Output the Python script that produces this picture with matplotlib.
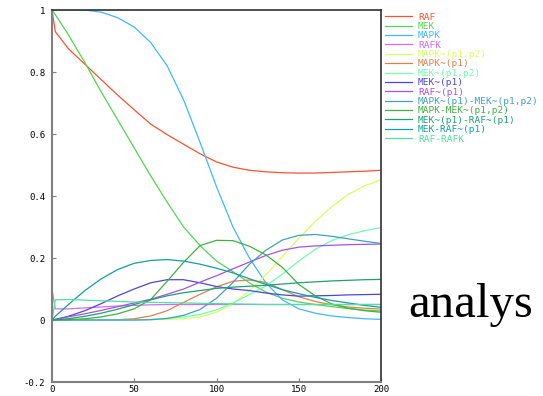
import matplotlib
matplotlib.use("Agg")
import matplotlib.pyplot as plt

# time points and species levels
t = [0, 2, 10, 20, 30, 40, 50, 60, 70, 80, 90, 100, 110, 120, 130, 140, 150, 160, 170, 180, 190, 200]

raf = [1.0, 0.93, 0.875, 0.825, 0.775, 0.725, 0.678, 0.632, 0.598, 0.567, 0.536, 0.51,
       0.493, 0.483, 0.478, 0.475, 0.474, 0.474, 0.476, 0.478, 0.48, 0.483]
mek = [1.0, 0.985, 0.92, 0.83, 0.735, 0.645, 0.555, 0.465, 0.38, 0.30, 0.24, 0.19,
       0.156, 0.12, 0.09, 0.07, 0.058, 0.05, 0.043, 0.037, 0.032, 0.029]
mapk = [1.0, 1.0, 1.0, 1.0, 0.993, 0.975, 0.945, 0.895, 0.82, 0.71, 0.573, 0.43,
        0.30, 0.20, 0.12, 0.065, 0.036, 0.022, 0.013, 0.008, 0.004, 0.002]
rafk = [0.1, 0.036, 0.036, 0.039, 0.042, 0.045, 0.047, 0.049, 0.05, 0.05, 0.05, 0.05,
        0.05, 0.05, 0.05, 0.05, 0.05, 0.05, 0.05, 0.05, 0.05, 0.05]
mapk_pp = [0, 0, 0, 0, 0, 0, 0, 0.001, 0.002, 0.004, 0.01, 0.025,
           0.052, 0.095, 0.145, 0.205, 0.263, 0.318, 0.365, 0.405, 0.433, 0.452]
mapk_p = [0, 0, 0, 0, 0, 0.001, 0.004, 0.013, 0.03, 0.057, 0.083, 0.107,
          0.125, 0.129, 0.121, 0.098, 0.075, 0.06, 0.049, 0.042, 0.038, 0.035]
mek_pp = [0, 0, 0, 0, 0, 0, 0, 0.002, 0.005, 0.01, 0.018, 0.033,
          0.055, 0.082, 0.11, 0.148, 0.19, 0.228, 0.256, 0.275, 0.288, 0.298]
mek_p = [0, 0.002, 0.012, 0.03, 0.053, 0.078, 0.1, 0.12, 0.13, 0.13, 0.12, 0.108,
         0.1, 0.095, 0.087, 0.081, 0.077, 0.078, 0.079, 0.081, 0.082, 0.083]
raf_p = [0, 0.002, 0.01, 0.02, 0.031, 0.043, 0.055, 0.067, 0.083, 0.1, 0.122, 0.143,
         0.165, 0.187, 0.208, 0.225, 0.235, 0.239, 0.241, 0.243, 0.244, 0.245]
mapkp_mekpp = [0, 0, 0, 0, 0, 0, 0, 0.001, 0.005, 0.015, 0.034, 0.07,
               0.121, 0.18, 0.225, 0.258, 0.273, 0.276, 0.27, 0.262, 0.254, 0.247]
mapk_mekpp = [0, 0, 0.001, 0.004, 0.01, 0.02, 0.036, 0.066, 0.125, 0.186, 0.24, 0.257,
              0.256, 0.238, 0.21, 0.17, 0.115, 0.078, 0.052, 0.038, 0.03, 0.025]
mekp_rafp = [0, 0.001, 0.004, 0.012, 0.022, 0.035, 0.05, 0.065, 0.078, 0.088, 0.095, 0.102,
             0.106, 0.109, 0.112, 0.116, 0.12, 0.123, 0.126, 0.128, 0.13, 0.131]
mek_rafp = [0, 0.012, 0.05, 0.095, 0.133, 0.163, 0.183, 0.192, 0.195, 0.19, 0.18, 0.167,
            0.152, 0.133, 0.115, 0.098, 0.085, 0.073, 0.063, 0.055, 0.047, 0.041]
raf_rafk = [0, 0.065, 0.066, 0.064, 0.062, 0.06, 0.058, 0.057, 0.056, 0.055, 0.054, 0.053,
            0.052, 0.051, 0.05, 0.05, 0.05, 0.05, 0.05, 0.05, 0.05, 0.05]

names = ["RAF", "MEK", "MAPK", "RAFK", "MAPK~(p1,p2)", "MAPK~(p1)", "MEK~(p1,p2)",
         "MEK~(p1)", "RAF~(p1)", "MAPK~(p1)-MEK~(p1,p2)", "MAPK-MEK~(p1,p2)",
         "MEK~(p1)-RAF~(p1)", "MEK-RAF~(p1)", "RAF-RAFK"]
series = [raf, mek, mapk, rafk, mapk_pp, mapk_p, mek_pp, mek_p, raf_p,
          mapkp_mekpp, mapk_mekpp, mekp_rafp, mek_rafp, raf_rafk]
colors = ["#ff5030", "#50d850", "#40b8ff", "#d868ff", "#d8ff60", "#e08050", "#70ffb0",
          "#4848e0", "#a850e8", "#40a0c0", "#40b040", "#20a070", "#10a0a0", "#50e0a0"]

yticks = [-0.2, 0, 0.2, 0.4, 0.6, 0.8, 1]
ylabels = ["-0.2", "0", "0.2", "0.4", "0.6", "0.8", "1"]
xticks = [0, 50, 100, 150, 200]

mono = "DejaVu Sans Mono"

fig = plt.figure(figsize=(5.43, 3.96), dpi=100)
ax = fig.add_axes([52/543, 1-382/396, (381-52)/543, (382-10)/396])

for name, vals, c in zip(names, series, colors):
    ax.plot(t, vals, color=c, lw=0.9, label=name)

ax.set_xlim(0, 200)
ax.set_ylim(-0.2, 1)
ax.set_yticks(yticks)
ax.set_yticklabels(ylabels)
ax.set_xticks(xticks)
ax.set_xticklabels([str(x) for x in xticks])
ax.tick_params(direction="in", length=3, width=0.8, color="#808080", labelsize=6.5)
ax.tick_params(axis="y", pad=5)
ax.tick_params(axis="x", pad=2.5)
for lab in ax.get_xticklabels() + ax.get_yticklabels():
    lab.set_family(mono)

ax.spines["left"].set_color("#808080")
ax.spines["bottom"].set_color("#808080")
ax.spines["left"].set_linewidth(1.5)
ax.spines["bottom"].set_linewidth(1.5)
ax.spines["top"].set_color("#303030")
ax.spines["right"].set_color("#303030")
ax.spines["top"].set_linewidth(1.2)
ax.spines["right"].set_linewidth(1.2)

leg = ax.legend(loc="upper left", bbox_to_anchor=(1.012, 0.993), frameon=False,
                prop={"family": mono, "size": 6.8}, labelspacing=0.04,
                handlelength=2.9, handletextpad=0.6, borderaxespad=0, borderpad=0)
for txt, c in zip(leg.get_texts(), colors):
    txt.set_color(c)

# big serif word at the right edge, as in the reference
fig.text(408/543, 1-317/396, "analys", family="Liberation Serif", size=35,
         ha="left", va="baseline", color="black")

fig.savefig("out.png", dpi=100)
